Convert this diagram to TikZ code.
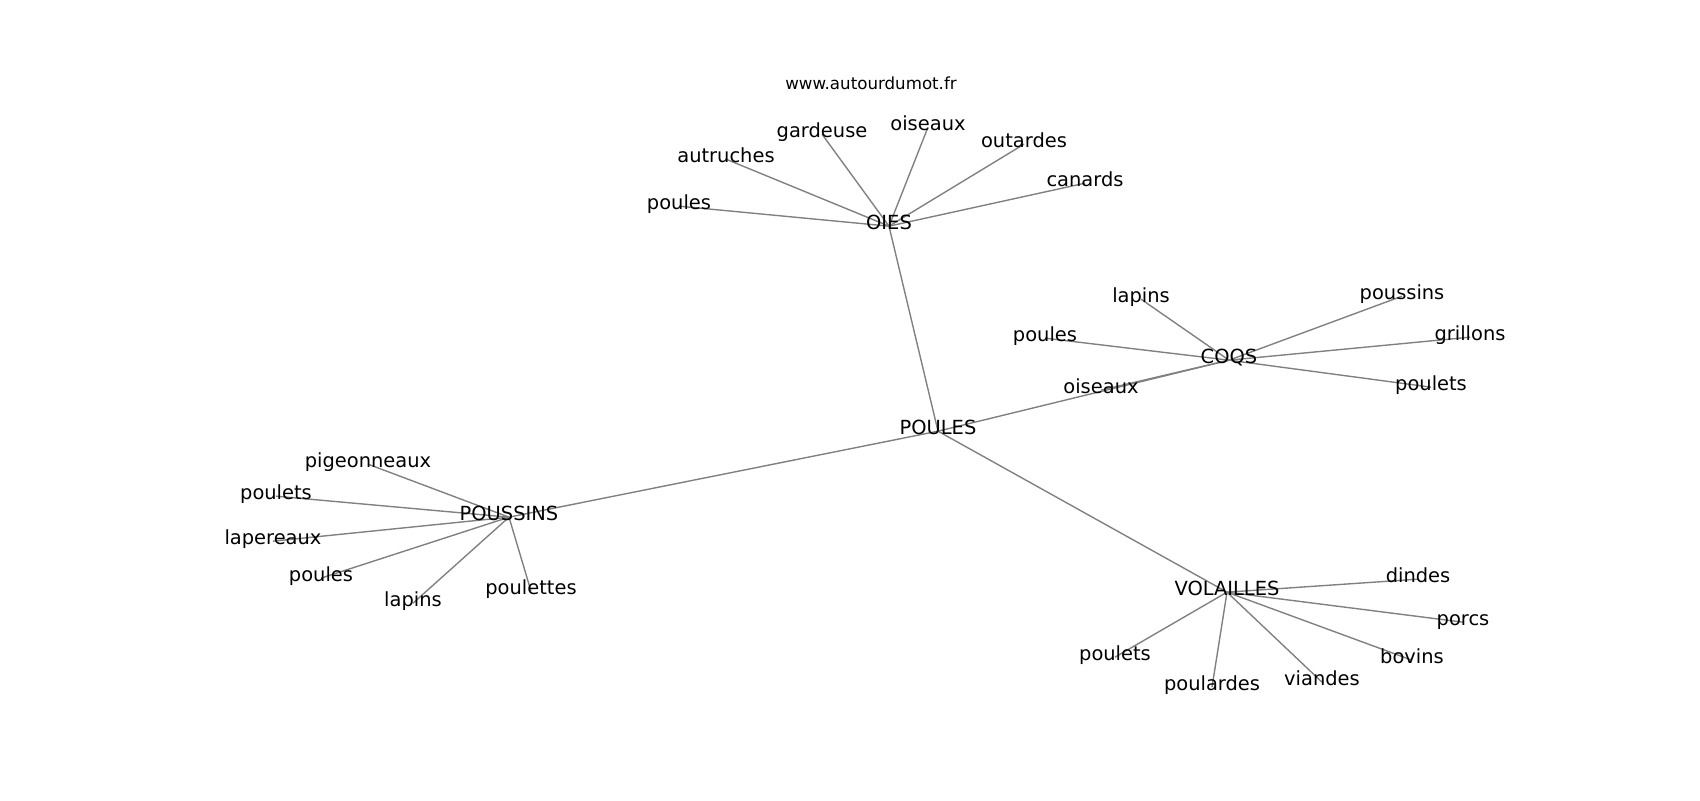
\documentclass[tikz,border=0pt]{standalone}
\usepackage{fontspec}
\setmainfont{DejaVu Sans}
\usetikzlibrary{backgrounds}
\tikzset{mot/.style={font=\fontsize{14}{16}\selectfont, inner sep=0pt, text height=.76em, text depth=.24em, yshift=-3pt},
  lien/.style={draw=gray, line width=1pt}}
\begin{document}
\begin{tikzpicture}[x=0.72pt,y=-0.72pt]
\useasboundingbox (0,0) rectangle (1700,800);
\node[font=\fontsize{12}{14}\selectfont, inner sep=0pt] (site) at (871,83) {www.autourdumot.fr};
% centre et groupes
\node[mot] (poules) at (938,427) {POULES};
\node[mot] (oies) at (889,222) {OIES};
\node[mot] (coqs) at (1229,356) {COQS};
\node[mot] (poussins) at (509,513) {POUSSINS};
\node[mot] (volailles) at (1227,588) {VOLAILLES};
% OIES
\node[mot] (o1) at (679,202) {poules};
\node[mot] (o2) at (726,155) {autruches};
\node[mot] (o3) at (822,130) {gardeuse};
\node[mot] (o4) at (928,123) {oiseaux};
\node[mot] (o5) at (1024,140) {outardes};
\node[mot] (o6) at (1085,179) {canards};
% COQS
\node[mot] (c1) at (1141,295) {lapins};
\node[mot] (c2) at (1045,334) {poules};
\node[mot] (c3) at (1101,386) {oiseaux};
\node[mot] (c4) at (1402,292) {poussins};
\node[mot] (c5) at (1470,333) {grillons};
\node[mot] (c6) at (1431,383) {poulets};
% POUSSINS
\node[mot] (p1) at (368,460) {pigeonneaux};
\node[mot] (p2) at (276,492) {poulets};
\node[mot] (p3) at (273,537) {lapereaux};
\node[mot] (p4) at (321,574) {poules};
\node[mot] (p5) at (413,599) {lapins};
\node[mot] (p6) at (531,587) {poulettes};
% VOLAILLES
\node[mot] (v1) at (1418,575) {dindes};
\node[mot] (v2) at (1463,618) {porcs};
\node[mot] (v3) at (1412,656) {bovins};
\node[mot] (v4) at (1322,678) {viandes};
\node[mot] (v5) at (1212,683) {poulardes};
\node[mot] (v6) at (1115,653) {poulets};
\begin{scope}[on background layer]
\foreach \g in {oies,coqs,poussins,volailles}
\draw[lien] (poules.center) -- (\g.center);
\foreach \i in {1,...,6} {
\draw[lien] (oies.center) -- (o\i.center);
\draw[lien] (coqs.center) -- (c\i.center);
\draw[lien] (poussins.center) -- (p\i.center);
\draw[lien] (volailles.center) -- (v\i.center);
}
\end{scope}
\end{tikzpicture}
\end{document}
